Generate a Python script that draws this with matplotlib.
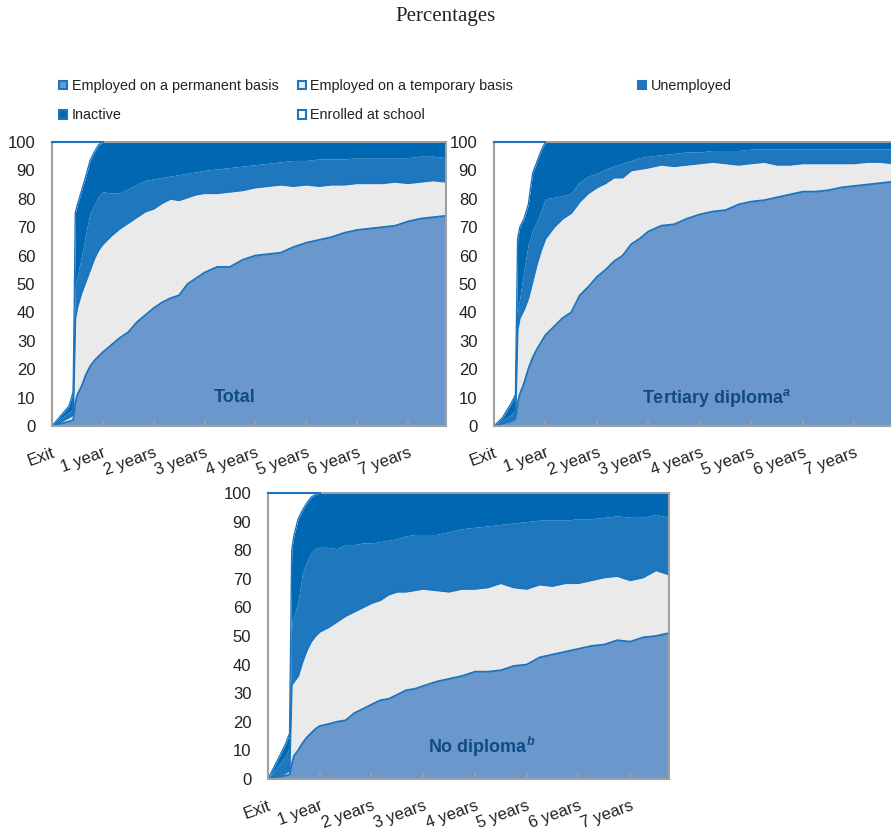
import numpy as np
import matplotlib
matplotlib.use('Agg')
import matplotlib.pyplot as plt
from matplotlib.patches import Patch

plt.rcParams['font.family'] = ['Liberation Sans', 'DejaVu Sans']
plt.rcParams['mathtext.fontset'] = 'custom'
plt.rcParams['mathtext.it'] = 'Liberation Sans:italic:bold'
plt.rcParams['mathtext.rm'] = 'Liberation Sans:bold'

# months since exit
months = [0, 2, 4, 5, 5.5, 6, 7, 8, 9, 10, 11, 12,
          14, 16, 18, 20, 22, 24, 26, 28, 30, 32, 34, 36,
          39, 42, 45, 48, 51, 54, 57, 60, 63, 66, 69, 72, 75, 78, 81, 84, 87, 90, 93]

tick_months = [0, 12, 24, 36, 48, 60, 72, 84]
tick_labels = ['Exit', '1 year', '2 years', '3 years', '4 years', '5 years', '6 years', '7 years']

series_names = ['Employed on a permanent basis', 'Employed on a temporary basis',
                'Unemployed', 'Inactive', 'Enrolled at school']

# cumulative levels (top of each band), in %
total_perm = [0, 0.8, 1.6, 2, 8, 11, 14, 18, 21, 23, 24.5, 26,
              28.5, 31, 33, 36.5, 39, 41.5, 43.5, 45, 46, 50, 52, 54,
              56, 56, 58.5, 60, 60.5, 61, 63, 64.5, 65.5, 66.5, 68, 69, 69.5, 70, 70.5, 72, 73, 73.5, 74]
total_temp = [0, 1.5, 3, 4, 38, 42, 47, 51, 55, 59, 62, 64,
              67, 69.5, 71.5, 73.5, 75.5, 76.5, 78.5, 80, 79.5, 80.5, 81.5, 82,
              82, 82.5, 83, 84, 84.5, 85, 84.5, 85, 84.5, 85, 85, 85.5, 85.5, 85.5, 86, 85.5, 86, 86.5, 86]
total_unemp = [0, 2.5, 5, 6, 50, 53, 60, 68, 75, 78, 81, 82.5,
               82, 82, 83.5, 85, 86.5, 87, 87.5, 88, 88.5, 89, 89.5, 90,
               90.5, 91, 91.5, 92, 92.5, 93, 93.5, 93.5, 94, 94, 94, 94.5, 94.5, 94.5, 94.5, 94.5, 95, 95, 94.5]
total_inact = [0, 3.5, 7, 12, 75, 78, 83, 88, 93.5, 96.5, 99, 100,
               100, 100, 100, 100, 100, 100, 100, 100, 100, 100, 100, 100,
               100, 100, 100, 100, 100, 100, 100, 100, 100, 100, 100, 100, 100, 100, 100, 100, 100, 100, 100]

tert_perm = [0, 0.8, 1.6, 2.5, 8, 11, 15, 20, 24, 27, 29.5, 32,
             35, 38, 40, 46, 49, 52.5, 55, 58, 60, 64, 66, 68.5,
             70.5, 71, 73, 74.5, 75.5, 76, 78, 79, 79.5, 80.5, 81.5, 82.5, 82.5, 83, 84, 84.5, 85, 85.5, 86]
tert_temp = [0, 1, 2, 3, 34, 38, 41, 45, 51, 57, 62, 66,
             70, 73, 75, 79, 82, 84, 85.5, 87.5, 87.5, 90, 90.5, 91,
             92, 91.5, 92, 92.5, 93, 92.5, 92, 92.5, 93, 92, 92, 92.5, 92.5, 92.5, 92.5, 92.5, 93, 93, 92.5]
tert_unemp = [0, 2, 4, 6, 40, 45, 55, 64, 69, 72, 76, 80,
              80.5, 81, 82, 86, 88, 89, 90.5, 91.5, 92.5, 93.5, 94.5, 95,
              95.5, 96, 96.5, 96.5, 97, 97, 97, 97.5, 97.5, 97.5, 97.5, 97.5, 97.5, 97.5, 97.5, 97.5, 97.5, 97.5, 97.5]
tert_inact = [0, 3, 8, 11, 66, 70, 73, 78, 89, 93, 97, 100,
              100, 100, 100, 100, 100, 100, 100, 100, 100, 100, 100, 100,
              100, 100, 100, 100, 100, 100, 100, 100, 100, 100, 100, 100, 100, 100, 100, 100, 100, 100, 100]

nodip_perm = [0, 0.6, 1.2, 1.5, 5, 8, 10, 12.5, 14.5, 16, 17.5, 18.5,
              19.2, 20, 20.5, 23, 24.5, 26, 27.5, 28, 29.5, 31, 31.5, 32.5,
              34, 35, 36, 37.5, 37.5, 38, 39.5, 40, 42.5, 43.5, 44.5, 45.5, 46.5, 47, 48.5, 48, 49.5, 50, 51]
nodip_temp = [0, 1, 2, 3, 33, 34, 36, 41, 45, 48, 50, 51.5,
              53, 55, 57, 58.5, 60, 61.5, 62.5, 64.5, 65.5, 65.5, 66, 66.5,
              66, 65.5, 66.5, 66.5, 67, 68.5, 67, 66.5, 68, 67.5, 68.5, 68.5, 69.5, 70.5, 71, 69.5, 70.5, 73, 71.5]
nodip_unemp = [0, 4, 8, 11, 55, 57, 62, 72, 76, 79, 80.5, 81,
               81, 80.5, 82, 82, 82.5, 82.5, 83, 83.5, 84, 85, 85.5, 85.5,
               85.5, 86.5, 87.5, 88, 88.5, 89, 89.5, 90, 90.5, 90.5, 90.5, 91, 91, 91.5, 92, 91.5, 91.5, 92.5, 91.5]
nodip_inact = [0, 6, 12, 16, 80, 85, 91, 94, 96.5, 98.5, 99.5, 100,
               100, 100, 100, 100, 100, 100, 100, 100, 100, 100, 100, 100,
               100, 100, 100, 100, 100, 100, 100, 100, 100, 100, 100, 100, 100, 100, 100, 100, 100, 100, 100]

C_PERM = '#6a98cd'
C_TEMP = '#eaeaea'
C_UNEMP = '#1f77be'
C_INACT = '#0068b3'
C_SCHOOL = 'white'
C_LINE = '#1d74bf'
C_SPINE = '#a0a0a0'
C_LABEL = '#124a86'


def draw_panel(ax, perm, temp, unemp, inact, label, lx, ly):
    x = np.array(months)
    perm, temp, unemp, inact = map(np.array, (perm, temp, unemp, inact))
    ax.fill_between(x, 0, perm, color=C_PERM, lw=0)
    ax.fill_between(x, perm, temp, color=C_TEMP, lw=0)
    ax.fill_between(x, temp, unemp, color=C_UNEMP, lw=0)
    ax.fill_between(x, unemp, inact, color=C_INACT, lw=0)
    ax.fill_between(x, inact, 100, color=C_SCHOOL, lw=0)
    ax.plot(x, perm, color=C_LINE, lw=1.4)
    ax.plot(x, temp, color=C_LINE, lw=1.4)
    ax.plot(x, inact, color=C_LINE, lw=1.0)
    k = int(np.argmax(inact >= 100)) + 1
    ax.plot(x[:k], np.full(k, 100), color=C_LINE, lw=1.5, zorder=3, clip_on=False)

    ax.set_xlim(0, 93)
    ax.set_ylim(0, 100)
    ax.set_yticks(range(0, 101, 10))
    ax.set_xticks(tick_months)
    ax.set_xticklabels(tick_labels, rotation=20, ha='right', va='top', rotation_mode='anchor')
    ax.tick_params(axis='y', length=0, pad=12, labelsize=12, labelcolor='#222222')
    ax.tick_params(axis='x', direction='in', length=4, color=C_SPINE, width=1.2,
                   pad=14, labelsize=12, labelcolor='#222222')
    for s in ax.spines.values():
        s.set_color(C_SPINE)
        s.set_linewidth(1.5)
    ax.text(lx, ly, label, transform=ax.transAxes, ha='center', va='center',
            fontsize=13, fontweight='bold', color=C_LABEL)


fig = plt.figure(figsize=(8.91, 8.30), dpi=100)

ax1 = fig.add_axes([52 / 891, 1 - 426 / 830, 394 / 891, 284 / 830])
ax2 = fig.add_axes([494 / 891, 1 - 426 / 830, 399 / 891, 284 / 830])
ax3 = fig.add_axes([268 / 891, 1 - 779 / 830, 401 / 891, 286 / 830])

draw_panel(ax1, total_perm, total_temp, total_unemp, total_inact, 'Total', 0.464, 0.102)
draw_panel(ax2, tert_perm, tert_temp, tert_unemp, tert_inact, r'Tertiary diploma$^{a}$', 0.558, 0.099)
draw_panel(ax3, nodip_perm, nodip_temp, nodip_unemp, nodip_inact, r'No diploma$^{b}$', 0.534, 0.112)

fig.text(0.5, 1 - 16 / 830, 'Percentages', ha='center', va='center',
         fontsize=15, family='Liberation Serif', color='#222222')

colors = [C_PERM, C_TEMP, C_UNEMP, C_INACT, C_SCHOOL]
handles = [Patch(facecolor=c, edgecolor=C_LINE, linewidth=1.5, label=n)
           for c, n in zip(colors, series_names)]
leg_kw = dict(loc='upper left', frameon=False, fontsize=10.4, borderpad=0,
              handlelength=0.55, handleheight=0.55, handletextpad=0.3,
              labelspacing=1.05, labelcolor='#222222')
fig.legend(handles=[handles[0], handles[3]], bbox_to_anchor=(52 / 891, 1 - 72 / 830), **leg_kw)
fig.legend(handles=[handles[1], handles[4]], bbox_to_anchor=(291 / 891, 1 - 72 / 830), **leg_kw)
fig.legend(handles=[handles[2]], bbox_to_anchor=(631 / 891, 1 - 72 / 830), **leg_kw)

fig.savefig('out.png', dpi=100)
